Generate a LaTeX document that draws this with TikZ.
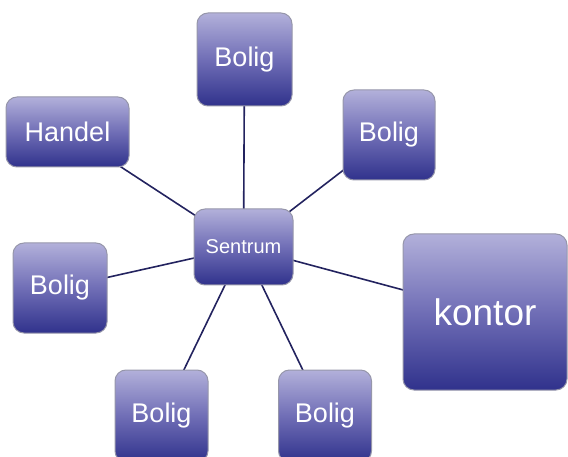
\documentclass[tikz,border=0pt]{standalone}
\usepackage{fontspec}
\setmainfont{Liberation Sans}
\usetikzlibrary{backgrounds}
\definecolor{boxtop}{RGB}{178,176,218}
\definecolor{boxmid}{RGB}{112,110,182}
\definecolor{boxbot}{RGB}{48,50,140}
\definecolor{boxedge}{RGB}{150,150,170}
\definecolor{linkcol}{RGB}{35,35,95}
\tikzset{
  box/.style={rounded corners=11pt, draw=boxedge, line width=1pt,
    top color=boxtop, bottom color=boxbot, middle color=boxmid,
    text=white, font=\fontsize{27}{30}\selectfont, inner sep=0pt, align=center},
  link/.style={draw=linkcol, line width=1.6pt}
}
\begin{document}
\begin{tikzpicture}[x=1pt,y=-1pt]
\useasboundingbox (0,0) rectangle (568,457);
\node[box, minimum width=95pt, minimum height=93pt] (b1) at (244.5,59.5) {Bolig};
\node[box, minimum width=123pt, minimum height=70pt] (ha) at (67.5,132) {Handel};
\node[box, minimum width=92pt, minimum height=90pt] (b2) at (389,135) {Bolig};
\node[box, minimum width=99pt, minimum height=76pt, font=\fontsize{20}{24}\selectfont] (se) at (243.5,247) {Sentrum};
\node[box, minimum width=94pt, minimum height=90pt] (b3) at (60,288) {Bolig};
\node[box, minimum width=164pt, minimum height=156pt, font=\fontsize{37}{40}\selectfont] (ko) at (485,312) {kontor};
\node[box, minimum width=93pt, minimum height=92pt] (b4) at (161.5,416) {Bolig};
\node[box, minimum width=93pt, minimum height=92pt] (b5) at (325,416) {Bolig};
\begin{scope}[on background layer]
\draw[link] (se.center) -- (b1.center);
\draw[link] (se.center) -- (ha.center);
\draw[link] (se.center) -- (b2.center);
\draw[link] (se.center) -- (b3.center);
\draw[link] (se.center) -- (ko.center);
\draw[link] (se.center) -- (b4.center);
\draw[link] (se.center) -- (b5.center);
\end{scope}
\end{tikzpicture}
\end{document}
